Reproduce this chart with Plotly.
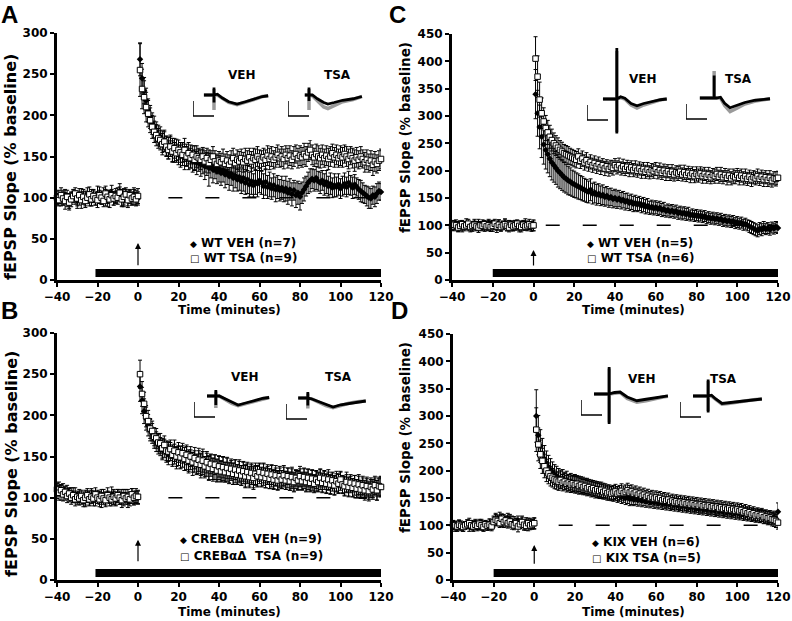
import plotly.graph_objects as go

# ---------------- data ----------------
t_base = list(range(-40, 1))          # baseline sweeps, one per minute
t_post = list(range(1, 121))          # post-tetanus sweeps, one per minute
time_min = t_base + t_post

x_ticks = [-40, -20, 0, 20, 40, 60, 80, 100, 120]
y_ticks_ab = [0, 50, 100, 150, 200, 250, 300]
y_ticks_cd = [0, 50, 100, 150, 200, 250, 300, 350, 400, 450]

# ---- Panel A (WT) ----
A_veh = [98, 101, 96, 100, 103, 97, 95, 99, 102, 100, 96, 98, 103, 101, 99, 104, 97, 100, 102, 98,
         105, 101, 99, 103, 100, 97, 102, 106, 99, 101, 104, 108, 100, 97, 103, 99, 101, 98, 104, 100, 99,
         268, 245, 230, 218, 206, 198, 190, 186, 180, 176,
         174, 168, 170, 163, 160, 164, 158, 155, 158, 152,
         150, 155, 148, 152, 146, 150, 144, 148, 142, 145,
         140, 144, 138, 141, 136, 139, 134, 137, 132, 135,
         130, 133, 128, 131, 126, 129, 124, 127, 122, 125,
         120, 124, 118, 122, 116, 120, 115, 119, 117, 121,
         118, 114, 119, 113, 116, 111, 115, 110, 113, 109,
         112, 108, 111, 106, 110, 104, 109, 103, 106, 101,
         106, 110, 114, 118, 121, 123, 121, 124, 120, 118,
         121, 116, 119, 114, 117, 112, 115, 113, 116, 111,
         114, 117, 113, 118, 115, 112, 116, 113, 110, 108,
         106, 104, 102, 100, 99, 103, 101, 105, 108, 107]
A_veh_err = [7, 8, 6, 9, 7, 8, 10, 7, 6, 8, 9, 7, 8, 6, 9, 8, 7, 10, 8, 7,
             9, 8, 7, 9, 10, 8, 7, 9, 8, 7, 8, 9, 10, 8, 7, 9, 8, 7, 8, 9, 8,
             20, 18, 16, 15, 14, 14, 13, 13, 12, 12,
             12, 13, 12, 12, 13, 12, 14, 12, 13, 12,
             13, 12, 14, 13, 12, 14, 13, 15, 14, 13,
             14, 15, 16, 14, 22, 15, 16, 14, 15, 16,
             15, 14, 16, 15, 17, 14, 16, 15, 14, 16,
             15, 16, 14, 17, 15, 16, 14, 15, 16, 15,
             14, 15, 16, 14, 15, 13, 14, 15, 14, 13,
             14, 13, 15, 14, 13, 14, 12, 15, 14, 16,
             13, 14, 12, 13, 14, 12, 13, 14, 12, 13,
             12, 13, 14, 12, 13, 12, 14, 12, 13, 12,
             12, 13, 12, 14, 12, 13, 12, 11, 12, 13,
             12, 11, 12, 13, 12, 11, 12, 12, 11, 10]
A_tsa = [100, 97, 103, 99, 96, 101, 94, 98, 102, 105, 99, 103, 97, 101, 96, 100, 104, 98, 102, 99,
         97, 103, 100, 96, 105, 101, 98, 103, 99, 102, 100, 106, 98, 101, 104, 97, 103, 99, 101, 98, 102,
         255, 232, 222, 210, 202, 194, 186, 180, 176, 172,
         170, 165, 168, 162, 158, 162, 156, 160, 154, 158,
         155, 152, 158, 150, 154, 148, 152, 146, 150, 148,
         146, 150, 144, 148, 142, 146, 150, 144, 141, 145,
         143, 147, 141, 145, 140, 144, 148, 142, 146, 144,
         148, 143, 147, 145, 149, 144, 148, 146, 150, 147,
         145, 149, 146, 151, 147, 150, 146, 149, 152, 148,
         150, 147, 152, 148, 151, 146, 150, 153, 148, 151,
         149, 153, 150, 155, 158, 152, 149, 153, 150, 148,
         152, 148, 151, 147, 150, 154, 149, 152, 148, 151,
         149, 153, 150, 147, 151, 148, 145, 149, 146, 150,
         147, 143, 146, 142, 145, 140, 144, 141, 145, 147]
A_tsa_err = [8, 7, 9, 8, 10, 8, 7, 9, 8, 7, 9, 8, 10, 9, 8, 7, 9, 8, 7, 8,
             9, 10, 8, 7, 9, 8, 10, 7, 8, 9, 8, 7, 9, 10, 8, 9, 7, 8, 9, 8, 9,
             32, 24, 20, 18, 16, 15, 14, 13, 13, 12,
             12, 13, 12, 12, 11, 12, 13, 12, 11, 12,
             12, 13, 14, 12, 13, 12, 11, 12, 13, 12,
             12, 11, 13, 12, 12, 11, 12, 13, 12, 11,
             11, 12, 12, 11, 12, 13, 12, 11, 12, 12,
             11, 12, 13, 12, 11, 12, 12, 13, 12, 11,
             12, 11, 12, 12, 13, 12, 11, 12, 12, 11,
             12, 12, 11, 12, 12, 11, 12, 11, 12, 12,
             12, 13, 12, 11, 12, 12, 11, 12, 13, 12,
             12, 11, 12, 13, 12, 11, 12, 12, 11, 12,
             12, 11, 12, 12, 11, 12, 13, 12, 11, 12,
             11, 12, 12, 11, 12, 13, 12, 11, 12, 12]

# ---- Panel B (CREBaD) ----
B_veh = [108, 111, 106, 110, 105, 108, 103, 106, 101, 104, 99, 102, 98, 100, 97, 101, 99, 103, 101, 98,
         102, 100, 97, 103, 99, 101, 98, 104, 100, 97, 102, 99, 101, 98, 103, 96, 100, 102, 99, 101, 100,
         235, 218, 205, 196, 188, 182, 178, 172, 168, 165,
         162, 158, 160, 155, 152, 156, 150, 153, 148, 151,
         147, 150, 145, 148, 143, 146, 141, 144, 140, 143,
         139, 142, 137, 140, 136, 139, 134, 137, 133, 136,
         132, 135, 131, 134, 130, 133, 129, 132, 128, 131,
         127, 130, 126, 129, 125, 128, 124, 127, 126, 129,
         125, 128, 124, 127, 123, 126, 122, 125, 121, 124,
         122, 125, 121, 124, 120, 123, 119, 122, 121, 124,
         120, 123, 119, 122, 118, 121, 117, 120, 119, 122,
         118, 121, 117, 120, 116, 119, 115, 118, 117, 120,
         116, 114, 117, 113, 116, 112, 115, 111, 114, 110,
         113, 109, 112, 108, 111, 110, 113, 109, 112, 114]
B_veh_err = [9, 8, 9, 7, 8, 7, 8, 6, 7, 8, 7, 8, 6, 7, 8, 7, 9, 8, 7, 8,
             7, 8, 9, 7, 8, 7, 8, 9, 8, 7, 8, 7, 9, 8, 7, 8, 7, 9, 8, 7, 8,
             18, 16, 15, 14, 13, 13, 12, 12, 12, 12,
             11, 12, 11, 12, 12, 11, 12, 12, 13, 12,
             12, 13, 12, 14, 13, 12, 14, 13, 12, 14,
             15, 14, 13, 14, 15, 13, 14, 15, 13, 14,
             13, 14, 12, 14, 13, 12, 13, 14, 12, 13,
             12, 13, 14, 12, 13, 12, 14, 12, 13, 12,
             12, 13, 12, 11, 12, 13, 12, 11, 12, 12,
             11, 12, 11, 12, 11, 12, 12, 11, 12, 11,
             11, 12, 11, 12, 11, 12, 11, 12, 11, 12,
             12, 11, 12, 11, 12, 11, 12, 11, 12, 11,
             11, 12, 11, 12, 10, 11, 12, 11, 12, 11,
             11, 12, 11, 10, 11, 12, 11, 12, 11, 12]
B_tsa = [110, 106, 109, 104, 107, 102, 105, 100, 103, 98, 101, 99, 102, 97, 100, 103, 98, 101, 99, 104,
         100, 98, 102, 99, 97, 103, 100, 98, 101, 99, 103, 100, 97, 102, 99, 101, 98, 104, 100, 102, 101,
         250, 226, 214, 199, 193, 184, 181, 174, 172, 167,
         166, 160, 164, 157, 156, 159, 152, 157, 150, 155,
         149, 154, 147, 152, 145, 150, 143, 148, 141, 146,
         140, 145, 138, 143, 136, 141, 135, 140, 133, 138,
         132, 137, 131, 136, 130, 135, 129, 134, 128, 133,
         127, 132, 126, 131, 125, 130, 124, 129, 126, 131,
         125, 130, 124, 129, 123, 128, 122, 127, 121, 126,
         122, 127, 121, 126, 120, 125, 119, 124, 121, 126,
         120, 125, 119, 124, 118, 123, 117, 122, 119, 124,
         118, 123, 117, 122, 116, 121, 115, 120, 117, 122,
         116, 114, 119, 113, 118, 112, 117, 111, 116, 110,
         115, 109, 114, 108, 113, 110, 115, 109, 114, 113]
B_tsa_err = [8, 9, 7, 8, 7, 8, 7, 8, 9, 8, 7, 8, 7, 8, 9, 8, 7, 8, 9, 8,
             7, 9, 8, 7, 8, 9, 7, 8, 9, 8, 7, 8, 9, 8, 7, 9, 8, 7, 8, 9, 8,
             17, 15, 14, 13, 13, 12, 12, 11, 12, 11,
             12, 12, 11, 12, 12, 11, 12, 13, 12, 12,
             13, 12, 14, 12, 13, 12, 12, 13, 12, 14,
             13, 14, 12, 13, 14, 12, 13, 12, 14, 13,
             12, 13, 12, 13, 12, 12, 13, 12, 12, 13,
             12, 12, 13, 12, 11, 12, 12, 13, 12, 11,
             11, 12, 12, 11, 12, 12, 11, 12, 11, 12,
             11, 12, 11, 10, 11, 12, 11, 10, 11, 12,
             10, 11, 12, 11, 10, 11, 10, 11, 12, 11,
             11, 10, 11, 12, 11, 10, 11, 12, 11, 10,
             10, 11, 12, 11, 10, 11, 10, 11, 12, 11,
             11, 10, 11, 12, 11, 10, 11, 12, 11, 12]

# ---- Panel C (WT) ----
C_veh = [100, 97, 102, 98, 101, 96, 99, 103, 98, 100, 97, 102, 99, 104, 98, 101, 97, 100, 103, 98,
         101, 99, 96, 102, 98, 100, 103, 97, 101, 99, 98, 102, 100, 97, 101, 99, 103, 98, 100, 97, 99,
         340, 305, 280, 262, 248, 238, 230, 222, 215, 210,
         205, 200, 196, 192, 188, 185, 182, 180, 177, 175,
         173, 171, 169, 167, 165, 163, 161, 165, 158, 160,
         156, 158, 154, 156, 152, 154, 150, 152, 148, 150,
         147, 149, 145, 147, 143, 145, 141, 143, 139, 141,
         138, 140, 136, 138, 134, 136, 132, 134, 131, 133,
         130, 132, 128, 130, 126, 128, 125, 127, 124, 126,
         122, 124, 121, 123, 120, 122, 118, 120, 117, 119,
         116, 118, 115, 117, 113, 115, 112, 114, 111, 113,
         110, 112, 108, 110, 107, 109, 106, 108, 104, 106,
         103, 105, 101, 103, 100, 98, 96, 94, 92, 90,
         94, 92, 96, 93, 95, 92, 96, 94, 97, 95]
C_veh_err = [8, 7, 8, 9, 7, 8, 7, 9, 8, 7, 8, 9, 8, 7, 8, 9, 8, 7, 8, 9,
             8, 7, 9, 8, 7, 8, 9, 7, 8, 9, 8, 7, 8, 9, 7, 8, 9, 8, 7, 8, 9,
             45, 42, 40, 38, 36, 35, 34, 33, 32, 31,
             30, 30, 29, 28, 27, 26, 26, 25, 24, 24,
             23, 23, 22, 22, 21, 21, 20, 20, 19, 19,
             19, 18, 18, 18, 17, 17, 17, 16, 16, 16,
             16, 15, 15, 15, 15, 14, 14, 14, 14, 14,
             13, 13, 13, 13, 13, 13, 12, 12, 12, 12,
             12, 12, 12, 12, 11, 11, 11, 11, 11, 11,
             11, 11, 11, 11, 11, 11, 10, 10, 10, 10,
             10, 10, 10, 10, 10, 10, 10, 10, 10, 10,
             10, 10, 10, 10, 10, 10, 10, 10, 10, 10,
             10, 10, 10, 10, 10, 11, 11, 11, 11, 11,
             11, 11, 11, 10, 10, 10, 10, 10, 10, 10]
C_tsa = [98, 101, 100, 96, 99, 102, 98, 100, 103, 97, 99, 101, 98, 96, 100, 99, 102, 98, 100, 97,
         99, 103, 98, 101, 97, 100, 102, 99, 96, 101, 98, 100, 103, 99, 97, 101, 98, 100, 102, 99, 100,
         405, 372, 330, 305, 290, 278, 270, 262, 256, 250,
         246, 242, 238, 235, 232, 230, 228, 226, 224, 222,
         220, 226, 218, 222, 215, 219, 212, 216, 210, 214,
         208, 212, 206, 210, 204, 208, 203, 207, 205, 210,
         206, 210, 204, 208, 203, 207, 202, 206, 201, 205,
         200, 204, 199, 203, 198, 202, 197, 201, 199, 203,
         197, 201, 196, 200, 195, 199, 194, 198, 193, 197,
         195, 198, 193, 197, 192, 196, 191, 195, 190, 194,
         191, 195, 190, 194, 189, 193, 188, 192, 190, 194,
         189, 193, 188, 192, 187, 191, 186, 190, 188, 192,
         187, 191, 186, 190, 185, 189, 184, 188, 186, 190,
         185, 189, 184, 188, 183, 187, 182, 186, 185, 187]
C_tsa_err = [7, 8, 7, 8, 9, 7, 8, 7, 8, 9, 8, 7, 8, 9, 7, 8, 7, 8, 9, 8,
             10, 8, 7, 9, 8, 7, 8, 9, 8, 7, 8, 9, 7, 8, 9, 8, 7, 8, 9, 8, 10,
             40, 38, 32, 28, 25, 23, 22, 21, 20, 19,
             18, 18, 17, 17, 16, 16, 16, 15, 15, 15,
             15, 14, 14, 14, 14, 14, 13, 13, 13, 13,
             13, 13, 13, 12, 13, 12, 13, 12, 13, 12,
             12, 13, 12, 13, 12, 12, 13, 12, 12, 13,
             12, 12, 13, 12, 12, 13, 12, 12, 13, 12,
             12, 13, 12, 12, 13, 12, 12, 13, 12, 12,
             13, 12, 12, 13, 12, 12, 13, 12, 12, 13,
             12, 12, 13, 12, 12, 13, 12, 12, 13, 12,
             12, 13, 12, 12, 13, 12, 12, 13, 12, 12,
             13, 12, 12, 13, 12, 12, 13, 12, 12, 13,
             12, 12, 13, 12, 12, 13, 12, 12, 13, 12]

# ---- Panel D (KIX) ----
D_veh = [100, 98, 96, 101, 99, 97, 100, 102, 98, 101, 99, 103, 97, 100, 102, 98, 101, 99, 103, 100,
         108, 112, 110, 114, 109, 111, 107, 113, 110, 108, 106, 104, 109, 103, 107, 101, 105, 100, 104, 102, 103,
         300, 265, 245, 232, 222, 214, 207, 202, 197, 193,
         190, 187, 184, 186, 181, 183, 178, 180, 176, 178,
         174, 176, 172, 174, 170, 172, 168, 170, 166, 168,
         164, 166, 162, 164, 160, 162, 158, 160, 156, 158,
         154, 156, 152, 154, 150, 152, 148, 150, 147, 149,
         146, 148, 145, 147, 144, 146, 143, 145, 142, 144,
         141, 143, 140, 142, 139, 141, 138, 140, 137, 139,
         136, 138, 135, 137, 134, 136, 133, 135, 132, 134,
         131, 133, 130, 132, 129, 131, 128, 130, 127, 129,
         126, 128, 125, 127, 124, 126, 123, 125, 122, 124,
         121, 123, 120, 122, 119, 121, 118, 120, 117, 119,
         116, 118, 115, 117, 114, 116, 113, 115, 112, 125]
D_veh_err = [8, 9, 7, 8, 9, 8, 7, 8, 9, 8, 9, 8, 7, 8, 9, 8, 7, 8, 9, 8,
             9, 10, 9, 10, 11, 9, 10, 9, 10, 9, 10, 9, 8, 9, 10, 8, 9, 10, 9, 8, 10,
             48, 36, 30, 27, 24, 22, 21, 20, 19, 18,
             18, 17, 17, 16, 16, 16, 15, 15, 15, 15,
             15, 14, 14, 14, 14, 14, 13, 13, 13, 13,
             13, 13, 13, 13, 12, 12, 12, 12, 12, 12,
             12, 12, 12, 12, 12, 12, 12, 12, 11, 11,
             11, 11, 11, 11, 11, 11, 11, 11, 11, 11,
             11, 11, 11, 11, 11, 11, 11, 11, 11, 11,
             11, 11, 11, 11, 11, 11, 11, 11, 11, 11,
             11, 11, 11, 11, 11, 11, 11, 11, 11, 11,
             11, 11, 11, 11, 11, 11, 11, 11, 11, 11,
             11, 11, 11, 11, 11, 11, 11, 11, 11, 11,
             11, 11, 11, 11, 11, 11, 11, 11, 11, 16]
D_tsa = [102, 100, 98, 101, 99, 97, 100, 102, 104, 100, 98, 101, 99, 103, 100, 97, 102, 99, 101, 98,
         106, 110, 108, 104, 112, 106, 109, 104, 107, 102, 100, 104, 98, 102, 106, 101, 99, 104, 100, 102, 104,
         275, 248, 230, 218, 208, 200, 195, 190, 187, 184,
         182, 180, 183, 178, 180, 176, 178, 175, 177, 174,
         176, 172, 174, 170, 172, 168, 170, 166, 168, 164,
         166, 163, 165, 161, 163, 159, 161, 158, 160, 162,
         158, 160, 163, 159, 161, 164, 160, 162, 158, 160,
         156, 158, 154, 156, 152, 154, 150, 152, 149, 151,
         148, 150, 146, 148, 145, 147, 143, 145, 142, 144,
         141, 143, 140, 142, 139, 141, 138, 140, 137, 139,
         136, 138, 135, 137, 134, 136, 133, 135, 132, 134,
         131, 133, 130, 132, 129, 131, 128, 130, 127, 129,
         126, 128, 124, 126, 122, 124, 120, 122, 118, 120,
         117, 119, 115, 116, 113, 114, 111, 110, 108, 105]
D_tsa_err = [7, 8, 8, 9, 7, 8, 7, 8, 9, 8, 9, 8, 7, 8, 9, 8, 7, 8, 9, 8,
             9, 10, 9, 8, 9, 10, 8, 9, 10, 9, 8, 9, 10, 8, 9, 10, 8, 9, 8, 9, 10,
             40, 30, 26, 23, 21, 20, 19, 18, 17, 17,
             16, 16, 16, 15, 15, 15, 15, 15, 15, 15,
             15, 15, 15, 14, 14, 14, 14, 14, 14, 14,
             14, 14, 14, 13, 13, 13, 13, 13, 13, 13,
             13, 13, 13, 13, 13, 13, 13, 12, 12, 12,
             12, 12, 12, 12, 12, 12, 12, 12, 12, 12,
             12, 12, 12, 12, 12, 12, 12, 12, 12, 12,
             12, 12, 12, 12, 12, 12, 12, 12, 12, 12,
             12, 12, 12, 12, 12, 12, 12, 12, 12, 12,
             12, 12, 12, 12, 12, 12, 12, 12, 12, 12,
             12, 12, 12, 12, 12, 12, 12, 12, 12, 12,
             12, 12, 12, 12, 12, 12, 12, 12, 12, 12]

# Inset example fEPSP waveforms (ms, mV); black = after LTP, grey = baseline
scale_bar_t = [0, 0, 5]
scale_bar_v = [-0.4, -1.4, -1.4]

A_veh_wave_t = [2.6, 5.0, 5.0, 5.0, 5.0, 5.8, 7.0, 8.5, 10.5, 12.5, 14.5, 16.5, 17.9]
A_veh_wave_black = [0.0, 0.0, 0.5, -0.5, 0.0, 0.05, -0.2, -0.45, -0.6, -0.45, -0.25, -0.1, -0.05]
A_veh_wave_grey = [0.0, 0.0, 0.4, -1.0, 0.0, 0.0, -0.25, -0.5, -0.65, -0.5, -0.3, -0.1, -0.05]
A_tsa_wave_t = [4.0, 5.0, 5.0, 5.0, 5.0, 5.8, 7.0, 8.5, 9.5, 11.0, 13.0, 15.5, 17.6]
A_tsa_wave_black = [0.0, 0.0, 0.5, -0.4, 0.0, 0.0, -0.25, -0.5, -0.6, -0.5, -0.35, -0.25, -0.1]
A_tsa_wave_grey = [0.0, 0.0, 0.4, -1.0, 0.0, -0.05, -0.4, -0.8, -0.9, -0.7, -0.45, -0.3, -0.1]

B_veh_wave_t = [3.1, 5.2, 5.2, 5.2, 5.2, 6.0, 7.5, 9.0, 10.5, 12.5, 14.5, 16.5, 17.9]
B_veh_wave_black = [0.0, 0.0, 0.4, -0.6, 0.0, 0.0, -0.2, -0.45, -0.6, -0.45, -0.3, -0.15, -0.1]
B_veh_wave_grey = [0.0, 0.0, 0.3, -0.8, 0.0, 0.0, -0.25, -0.5, -0.65, -0.5, -0.3, -0.15, -0.1]
B_tsa_wave_t = [2.9, 5.2, 5.2, 5.2, 5.2, 6.0, 7.5, 9.5, 11.2, 13.0, 15.0, 17.0, 19.0]
B_tsa_wave_black = [0.0, 0.0, 0.4, -0.5, 0.0, -0.05, -0.2, -0.45, -0.6, -0.45, -0.35, -0.25, -0.2]
B_tsa_wave_grey = [0.0, 0.0, 0.3, -0.7, 0.0, -0.05, -0.25, -0.5, -0.65, -0.5, -0.35, -0.25, -0.2]

C_veh_wave_t = [3.8, 7.1, 7.1, 7.1, 7.1, 8.0, 9.0, 10.5, 11.9, 13.5, 15.5, 17.5, 19.0]
C_veh_wave_black = [0.0, 0.0, 3.4, -2.3, 0.0, 0.15, 0.05, -0.3, -0.45, -0.3, -0.15, -0.05, 0.0]
C_veh_wave_grey = [0.0, 0.0, 3.2, -2.2, 0.0, 0.1, 0.0, -0.4, -0.6, -0.4, -0.2, -0.05, 0.0]
C_tsa_wave_t = [3.3, 6.7, 6.7, 6.7, 7.3, 8.2, 9.2, 10.5, 12.0, 14.0, 16.5, 18.5, 20.0]
C_tsa_wave_black = [0.0, 0.0, 1.5, 0.0, 0.0, 0.05, -0.35, -0.65, -0.5, -0.3, -0.15, -0.08, -0.05]
C_tsa_wave_grey = [0.0, 0.0, 1.8, 0.0, 0.0, 0.0, -0.5, -0.9, -0.7, -0.4, -0.2, -0.1, -0.05]

D_veh_wave_t = [3.1, 6.7, 6.7, 6.7, 6.7, 8.0, 9.3, 11.0, 13.3, 15.5, 17.5, 19.5, 20.7]
D_veh_wave_black = [0.0, 0.0, 1.8, -2.0, 0.0, 0.1, 0.13, -0.2, -0.45, -0.35, -0.25, -0.15, -0.13]
D_veh_wave_grey = [0.0, 0.0, 1.7, -1.9, 0.0, 0.05, 0.1, -0.3, -0.55, -0.45, -0.3, -0.2, -0.15]
D_tsa_wave_t = [3.1, 6.7, 6.7, 6.7, 6.7, 7.5, 8.5, 10.0, 11.5, 13.5, 15.5, 17.5, 19.5]
D_tsa_wave_black = [0.0, 0.0, 1.1, -1.1, 0.0, 0.05, -0.2, -0.5, -0.45, -0.35, -0.3, -0.25, -0.2]
D_tsa_wave_grey = [0.0, 0.0, 1.0, -1.0, 0.0, 0.0, -0.25, -0.55, -0.5, -0.4, -0.3, -0.25, -0.2]

legend_A = ["WT VEH (n=7)", "WT TSA (n=9)"]
legend_B = ["CREBαΔ  VEH (n=9)", "CREBαΔ  TSA (n=9)"]
legend_C = ["WT VEH (n=5)", "WT TSA (n=6)"]
legend_D = ["KIX VEH (n=6)", "KIX TSA (n=5)"]

for _arr in (A_veh, A_veh_err, A_tsa, A_tsa_err, B_veh, B_veh_err, B_tsa, B_tsa_err,
             C_veh, C_veh_err, C_tsa, C_tsa_err, D_veh, D_veh_err, D_tsa, D_tsa_err):
    assert len(_arr) == len(time_min), len(_arr)

# ---------------- layout helpers ----------------
W, H = 792, 621
def px(p):
    return p / W
def py(p):
    return 1 - p / H

FONT = "DejaVu Sans"
fig = go.Figure()

panels = [
    dict(letter="A", n=1, xp=(57, 381), yp=(33, 280), ymax=300, yt=y_ticks_ab,
         veh=A_veh, veh_e=A_veh_err, tsa=A_tsa, tsa_e=A_tsa_err, bar0=-21, dash0=15,
         tip=45, tail=16, leg=legend_A, legx=188, legy=(243, 258),
         ytc=(11, 167), yts=16, xtc=(229, 310), lp=(9, 0)),
    dict(letter="B", n=2, xp=(57, 381), yp=(333, 580), ymax=300, yt=y_ticks_ab,
         veh=B_veh, veh_e=B_veh_err, tsa=B_tsa, tsa_e=B_tsa_err, bar0=-21, dash0=15,
         tip=49, tail=21, leg=legend_B, legx=178, legy=(539, 556),
         ytc=(11, 464), yts=16, xtc=(229, 612), lp=(9, 296)),
    dict(letter="C", n=3, xp=(452, 778), yp=(34, 280), ymax=450, yt=y_ticks_cd,
         veh=C_veh, veh_e=C_veh_err, tsa=C_tsa, tsa_e=C_tsa_err, bar0=-20, dash0=6,
         tip=55, tail=24, leg=legend_C, legx=585, legy=(243, 258),
         ytc=(405, 138), yts=13.5, xtc=(633, 310), lp=(398, 0)),
    dict(letter="D", n=4, xp=(453, 778), yp=(334, 580), ymax=450, yt=y_ticks_cd,
         veh=D_veh, veh_e=D_veh_err, tsa=D_tsa, tsa_e=D_tsa_err, bar0=-20, dash0=12,
         tip=64, tail=27, leg=legend_D, legx=590, legy=(542, 558),
         ytc=(405, 438), yts=13.5, xtc=(633, 612), lp=(399, 296)),
]

annotations = []
shapes = []
layout_axes = {}
tickfont = dict(family=FONT, size=12, color="black", weight="bold")

for p in panels:
    n = p["n"]
    xa, ya = f"x{n}", f"y{n}"
    layout_axes[f"xaxis{n}"] = dict(
        domain=[px(p["xp"][0]), px(p["xp"][1])], anchor=ya, range=[-40, 120],
        tickmode="array", tickvals=x_ticks, ticks="outside", ticklen=4, tickwidth=2,
        tickcolor="black", showline=True, linewidth=3, linecolor="black", automargin=False,
        showgrid=False, zeroline=False, tickfont=tickfont, fixedrange=True)
    layout_axes[f"yaxis{n}"] = dict(
        domain=[py(p["yp"][1]), py(p["yp"][0])], anchor=xa, range=[0, p["ymax"]],
        tickmode="array", tickvals=p["yt"], ticks="outside", ticklen=4, tickwidth=2,
        tickcolor="black", showline=True, linewidth=3, linecolor="black", automargin=False,
        showgrid=False, zeroline=False, tickfont=tickfont, fixedrange=True)

    shapes.append(dict(type="line", xref=xa, yref=ya, x0=p["dash0"], x1=120, y0=100, y1=100,
                       line=dict(color="black", width=1.5, dash="14px,23px"), layer="below"))
    shapes.append(dict(type="rect", xref=xa, yref=ya, x0=p["bar0"], x1=120,
                       ysizemode="pixel", yanchor=0, y0=3, y1=11,
                       fillcolor="black", line=dict(width=0), layer="above"))

    fig.add_trace(go.Scatter(
        x=time_min, y=p["veh"], mode="markers", xaxis=xa, yaxis=ya, cliponaxis=False,
        marker=dict(symbol="diamond", size=5, color="black", line=dict(width=0)),
        error_y=dict(type="data", array=p["veh_e"], color="black", thickness=1, width=2),
        showlegend=False, hoverinfo="skip"))
    fig.add_trace(go.Scatter(
        x=time_min, y=p["tsa"], mode="markers", xaxis=xa, yaxis=ya, cliponaxis=False,
        marker=dict(symbol="square", size=5.5, color="white", line=dict(color="black", width=1)),
        error_y=dict(type="data", array=p["tsa_e"], color="black", thickness=1, width=2),
        showlegend=False, hoverinfo="skip"))

    annotations.append(dict(x=0, y=p["tip"], xref=xa, yref=ya, ax=0, ay=p["tail"],
                            axref=xa, ayref=ya, showarrow=True, arrowhead=2, arrowsize=1,
                            arrowwidth=1.2, arrowcolor="black", text=""))
    annotations.append(dict(x=px(p["legx"]), y=py(p["legy"][0]), xref="paper", yref="paper",
                            xanchor="left", yanchor="middle", showarrow=False,
                            text="<span style='font-size:9px'>◆</span> " + p["leg"][0],
                            font=dict(family=FONT, size=12, color="black", weight="bold")))
    annotations.append(dict(x=px(p["legx"]), y=py(p["legy"][1]), xref="paper", yref="paper",
                            xanchor="left", yanchor="middle", showarrow=False,
                            text="<span style='font-size:10px'>□</span> " + p["leg"][1],
                            font=dict(family=FONT, size=12, color="black", weight="bold")))
    annotations.append(dict(x=px(p["ytc"][0]), y=py(p["ytc"][1]), xref="paper", yref="paper",
                            textangle=-90, showarrow=False, text="fEPSP Slope (% baseline)",
                            xanchor="center", yanchor="middle",
                            font=dict(family=FONT, size=p["yts"], color="black", weight="bold")))
    annotations.append(dict(x=px(p["xtc"][0]), y=py(p["xtc"][1]), xref="paper", yref="paper",
                            showarrow=False, text="Time (minutes)", xanchor="center", yanchor="middle",
                            font=dict(family=FONT, size=12, color="black", weight="bold")))
    annotations.append(dict(x=px(p["lp"][0]), y=py(p["lp"][1]), xref="paper", yref="paper",
                            showarrow=False, text=p["letter"], xanchor="center", yanchor="top",
                            borderpad=0,
                            font=dict(family="Liberation Sans", size=24, color="black", weight="bold")))

# ---------------- insets ----------------
insets = [
    ("VEH", 193, 95, A_veh_wave_t, A_veh_wave_black, A_veh_wave_grey, (242, 75)),
    ("TSA", 288, 95, A_tsa_wave_t, A_tsa_wave_black, A_tsa_wave_grey, (337, 75)),
    ("VEH", 194, 396, B_veh_wave_t, B_veh_wave_black, B_veh_wave_grey, (245, 377)),
    ("TSA", 286, 398, B_tsa_wave_t, B_tsa_wave_black, B_tsa_wave_grey, (338, 377)),
    ("VEH", 587, 99, C_veh_wave_t, C_veh_wave_black, C_veh_wave_grey, (643, 79)),
    ("TSA", 686, 98, C_tsa_wave_t, C_tsa_wave_black, C_tsa_wave_grey, (738, 79)),
    ("VEH", 581, 394, D_veh_wave_t, D_veh_wave_black, D_veh_wave_grey, (642, 379)),
    ("TSA", 680, 396, D_tsa_wave_t, D_tsa_wave_black, D_tsa_wave_grey, (723, 379)),
]
PX_MS, PX_MV = 4.2, 15.0
for k, (lab, left, base, wt, wb, wg, lc) in enumerate(insets):
    n = 5 + k
    xa, ya = f"x{n}", f"y{n}"
    layout_axes[f"xaxis{n}"] = dict(domain=[px(left), px(left + 21 * PX_MS)], range=[0, 21],
                                    anchor=ya, visible=False, fixedrange=True, automargin=False)
    layout_axes[f"yaxis{n}"] = dict(domain=[py(base + 3 * PX_MV), py(base - 4 * PX_MV)],
                                    range=[-3, 4], anchor=xa, visible=False, fixedrange=True,
                                    automargin=False)
    fig.add_trace(go.Scatter(x=scale_bar_t, y=scale_bar_v, mode="lines", xaxis=xa, yaxis=ya,
                             line=dict(color="black", width=1.5), showlegend=False, hoverinfo="skip"))
    fig.add_trace(go.Scatter(x=wt, y=wg, mode="lines", xaxis=xa, yaxis=ya, cliponaxis=False,
                             line=dict(color="#9a9a9a", width=3.5), showlegend=False, hoverinfo="skip"))
    fig.add_trace(go.Scatter(x=wt, y=wb, mode="lines", xaxis=xa, yaxis=ya, cliponaxis=False,
                             line=dict(color="black", width=2.8), showlegend=False, hoverinfo="skip"))
    annotations.append(dict(x=px(lc[0]), y=py(lc[1]), xref="paper", yref="paper", showarrow=False,
                            text=lab, xanchor="center", yanchor="middle",
                            font=dict(family=FONT, size=12, color="black", weight="bold")))

fig.update_layout(
    template="none",
    width=W, height=H, margin=dict(l=0, r=0, t=0, b=0, autoexpand=False),
    paper_bgcolor="white", plot_bgcolor="white",
    annotations=annotations, shapes=shapes, showlegend=False,
    **layout_axes)

# remove the browser's default 8px page margin so the figure sits at the window origin
fig.write_html("out.html",
               config={"displayModeBar": False, "staticPlot": True},
               post_script="document.body.style.margin='0px'; document.body.style.overflow='hidden';")
